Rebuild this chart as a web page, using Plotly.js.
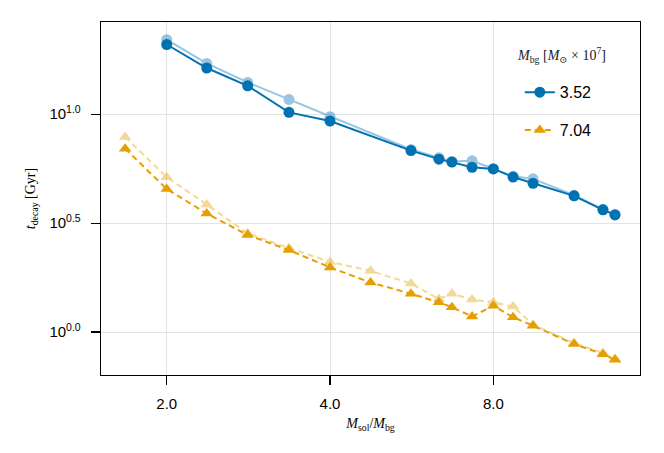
<!DOCTYPE html>
<html>
<head>
<meta charset="utf-8">
<script src="https://cdn.plot.ly/plotly-3.0.1.min.js"></script>
<style>
  html, body { margin: 0; padding: 0; background: #fff; }
  #chart { width: 664px; height: 453px; }
</style>
</head>
<body>
<div id="chart"></div>
<script>
// ── Dados ─────────────────────────────────────────────────
const xBlue = [2.0, 2.37, 2.82, 3.36, 4.0, 5.64, 6.35, 6.71, 7.31, 8.0, 8.70, 9.47, 11.27, 12.74, 13.41];
const tBlue      = [20.9, 16.3, 13.5, 10.2, 9.31, 6.81, 6.22, 6.03, 5.71, 5.61, 5.15, 4.82, 4.22, 3.64, 3.45];
const tBlueFaint = [22.0, 17.1, 14.0, 11.7, 9.75, 6.89, 6.31, 6.07, 6.11, 5.62, 5.19, 5.05, 4.25, 3.66, 3.47];

const xOrange = [1.676, 2.0, 2.37, 2.82, 3.36, 4.0, 4.75, 5.64, 6.35, 6.71, 7.31, 8.0, 8.70, 9.47, 11.27, 12.74, 13.41];
const tOrange      = [6.95, 4.54, 3.50, 2.79, 2.38, 1.98, 1.69, 1.50, 1.37, 1.30, 1.18, 1.32, 1.17, 1.07, 0.881, 0.792, 0.746];
const tOrangeFaint = [7.87, 5.14, 3.85, 2.84, 2.43, 2.10, 1.91, 1.67, 1.42, 1.50, 1.41, 1.37, 1.31, 1.08, 0.891, 0.802, 0.755];

const seriesNames = ['3.52', '7.04'];
const xTickVals = [2, 4, 8];
const xTickText = ['2.0', '4.0', '8.0'];
const yTickVals = [1, Math.pow(10, 0.5), 10];
const yTickText = ['10<sup>0.0</sup>', '10<sup>0.5</sup>', '10<sup>1.0</sup>'];

// ── Estilo ────────────────────────────────────────────────
const BLUE = '#0072B2';
const ORANGE = '#E69F00';
const SANS = 'Liberation Sans, Arial, sans-serif';
const SERIF = 'Liberation Serif, DejaVu Serif, serif';

const traces = [
  {
    x: xBlue, y: tBlueFaint, type: 'scatter', mode: 'lines+markers',
    opacity: 0.4, showlegend: false, hoverinfo: 'skip',
    line: { color: BLUE, width: 2 },
    marker: { color: BLUE, size: 11, symbol: 'circle' },
  },
  {
    x: xOrange, y: tOrangeFaint, type: 'scatter', mode: 'lines+markers',
    opacity: 0.4, showlegend: false, hoverinfo: 'skip',
    line: { color: ORANGE, width: 2, dash: '6px,4px' },
    marker: { color: ORANGE, size: 11, symbol: 'triangle-up' },
  },
  {
    x: xBlue, y: tBlue, type: 'scatter', mode: 'lines+markers',
    name: seriesNames[0], legendgroup: 'a',
    line: { color: BLUE, width: 2 },
    marker: { color: BLUE, size: 11, symbol: 'circle' },
  },
  {
    x: xOrange, y: tOrange, type: 'scatter', mode: 'lines+markers',
    name: seriesNames[1], legendgroup: 'b',
    line: { color: ORANGE, width: 2, dash: '6px,4px' },
    marker: { color: ORANGE, size: 11, symbol: 'triangle-up' },
  },
];

const commonAxis = {
  showline: true, linecolor: '#000', linewidth: 1.3, mirror: true,
  ticks: 'outside', ticklen: 9, tickwidth: 1.2, tickcolor: '#000',
  showgrid: true, gridcolor: '#e3e3e3', gridwidth: 1,
  zeroline: false,
  tickfont: { family: SANS, size: 15, color: '#000' },
};

const layout = {
  width: 664, height: 453,
  paper_bgcolor: '#fff', plot_bgcolor: '#fff',
  margin: { l: 101, r: 24, t: 22, b: 78 },
  xaxis: {
    ...commonAxis, type: 'log',
    range: [Math.log10(1.513), Math.log10(14.91)],
    tickvals: xTickVals, ticktext: xTickText,
    ticklabelstandoff: 6,
    title: {
      text: '<i>M</i><sub>sol</sub>/<i>M</i><sub>bg</sub>',
      font: { family: SERIF, size: 14, color: '#000' }, standoff: 7,
    },
  },
  yaxis: {
    ...commonAxis, type: 'log',
    range: [-0.197, 1.4234],
    tickvals: yTickVals, ticktext: yTickText,
    ticklabelstandoff: 7,
    title: {
      text: '<i>t</i><sub>decay</sub> [Gyr]',
      font: { family: SERIF, size: 14, color: '#000' }, standoff: 10,
    },
  },
  legend: {
    x: 0.777, y: 0.849, xanchor: 'left', yanchor: 'top',
    bgcolor: 'rgba(255,255,255,0)', borderwidth: 0,
    tracegroupgap: 14, itemwidth: 30,
    font: { family: SANS, size: 16, color: '#000' },
  },
  annotations: [{
    xref: 'paper', yref: 'paper', x: 0.855, y: 0.907,
    xanchor: 'center', yanchor: 'middle', showarrow: false,
    text: '<i>M</i><sub>bg</sub> [<i>M</i><sub>⊙</sub> × 10<sup>7</sup>]',
    font: { family: SERIF, size: 14, color: '#222' },
  }],
  showlegend: true,
};

Plotly.newPlot('chart', traces, layout, { displayModeBar: false, staticPlot: true });
</script>
</body>
</html>
